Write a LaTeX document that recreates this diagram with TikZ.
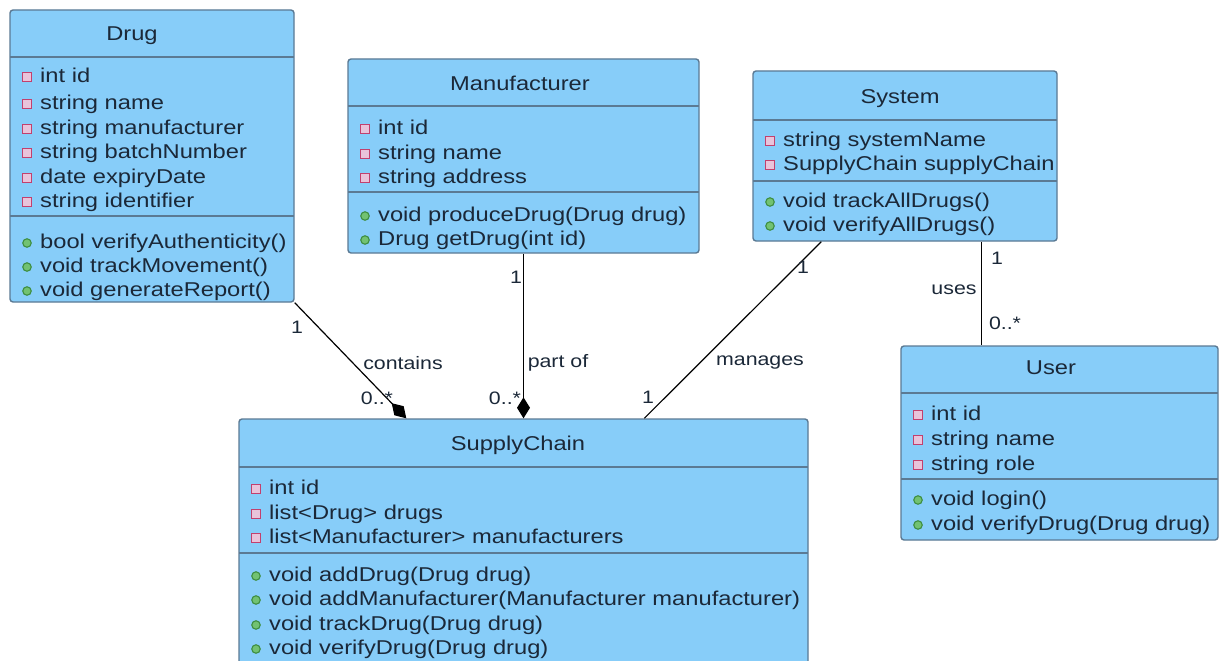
\documentclass[tikz,border=0pt]{standalone}
\usepackage{fontspec}
\setmainfont[FakeStretch=1.185]{Liberation Sans}
\usetikzlibrary{arrows.meta,calc}
\definecolor{boxfill}{HTML}{87CDF9}
\definecolor{boxline}{HTML}{5B7A94}
\definecolor{txtcol}{HTML}{1B2838}
\definecolor{privcol}{HTML}{C2406E}
\definecolor{privfill}{HTML}{E9C3DA}
\definecolor{pubcol}{HTML}{3E8E41}
\definecolor{pubfill}{HTML}{72C272}
\tikzset{
  cls/.style={draw=boxline, fill=boxfill, line width=1.4pt, rounded corners=3pt, inner sep=0pt},
  sepline/.style={draw=boxline, line width=1.2pt},
  title/.style={text=txtcol, font=\fontsize{20}{22}\selectfont, inner sep=0pt, anchor=base},
  row/.style={text=txtcol, font=\fontsize{20}{22}\selectfont, inner sep=0pt, anchor=base west},
  sqicon/.style={draw=privcol, fill=privfill, line width=1.3pt, minimum size=9.5pt, inner sep=0pt},
  ciicon/.style={circle, draw=pubcol, fill=pubfill, line width=1.1pt, minimum size=8.5pt, inner sep=0pt},
  conn/.style={draw=black, line width=1.2pt},
  comp/.style={conn, -{Diamond[length=21pt,width=13pt]}},
  lbl/.style={text=txtcol, font=\fontsize{18}{20}\selectfont, inner sep=0pt},
}
\newcommand\uattr[3]{\node[sqicon] at ({#1+17},{#2+3}) {};\node[row] at ({#1+30},{#2+8.5}) {#3};}
\newcommand\uop[3]{\node[ciicon] at ({#1+17},{#2+3}) {};\node[row] at ({#1+30},{#2+8.5}) {#3};}
\begin{document}
\begin{tikzpicture}[x=1pt,y=-1pt]
\clip (0,0) rectangle (1219,661);
\fill[white] (0,0) rectangle (1219,661);

% ---------- Drug ----------
\node[cls, minimum width=284pt, minimum height=292pt] (drug) at (152,156) {};
\node[title] (drugT) at (132,41) {Drug};
\draw[sepline] (10,57) -- (294,57);
\uattr{10}{74}{int id}
\uattr{10}{101}{string name}
\uattr{10}{126}{string manufacturer}
\uattr{10}{150}{string batchNumber}
\uattr{10}{175}{date expiryDate}
\uattr{10}{199}{string identifier}
\draw[sepline] (10,216) -- (294,216);
\uop{10}{240}{bool verifyAuthenticity()}
\uop{10}{264}{void trackMovement()}
\uop{10}{288}{void generateReport()}

% ---------- Manufacturer ----------
\node[cls, minimum width=351pt, minimum height=194pt] (mfr) at (523.5,156) {};
\node[title] (mfrT) at (520,91) {Manufacturer};
\draw[sepline] (348,106) -- (699,106);
\uattr{348}{126}{int id}
\uattr{348}{151}{string name}
\uattr{348}{175}{string address}
\draw[sepline] (348,192) -- (699,192);
\uop{348}{213}{void produceDrug(Drug drug)}
\uop{348}{237}{Drug getDrug(int id)}

% ---------- System ----------
\node[cls, minimum width=304pt, minimum height=170pt] (sys) at (905,156) {};
\node[title] (sysT) at (900,103) {System};
\draw[sepline] (753,120) -- (1057,120);
\uattr{753}{138}{string systemName}
\uattr{753}{162}{SupplyChain supplyChain}
\draw[sepline] (753,181) -- (1057,181);
\uop{753}{199}{void trackAllDrugs()}
\uop{753}{223}{void verifyAllDrugs()}

% ---------- User ----------
\node[cls, minimum width=317pt, minimum height=194pt] (user) at (1059.5,443) {};
\node[title] (userT) at (1051,374) {User};
\draw[sepline] (901,393) -- (1218,393);
\uattr{901}{412}{int id}
\uattr{901}{437}{string name}
\uattr{901}{462}{string role}
\draw[sepline] (901,479) -- (1218,479);
\uop{901}{497}{void login()}
\uop{901}{522}{void verifyDrug(Drug drug)}

% ---------- SupplyChain ----------
\node[cls, minimum width=569pt, minimum height=262pt] (sc) at (523.5,550) {};
\node[title] (scT) at (518,450) {SupplyChain};
\draw[sepline] (239,467) -- (808,467);
\uattr{239}{486}{int id}
\uattr{239}{511}{list<Drug> drugs}
\uattr{239}{535}{list<Manufacturer> manufacturers}
\draw[sepline] (239,553) -- (808,553);
\uop{239}{573}{void addDrug(Drug drug)}
\uop{239}{597}{void addManufacturer(Manufacturer manufacturer)}
\uop{239}{622}{void trackDrug(Drug drug)}
\uop{239}{646}{void verifyDrug(Drug drug)}

% ---------- Connectors ----------
\coordinate (scA) at ($(sc.north west)+(168,0)$);
\coordinate (scC) at ($(sc.north west)+(406,0)$);
\coordinate (sysA) at ($(sys.south west)+(69,0)$);
\coordinate (sysB) at ($(sys.south west)+(229,0)$);
\coordinate (userA) at (sysB |- user.north);

\draw[comp] (drug.south east) -- (scA);
\draw[comp] (mfr.south) -- (mfr.south |- sc.north);
\draw[conn] (sysA) -- (scC);
\draw[conn] (sysB) -- (userA);

% ---------- Labels ----------
\node[lbl] (l1) at (297,327) {1};
\node[lbl] (l2) at (403,363) {contains};
\node[lbl] (l3) at (377,398) {0..*};
\node[lbl] (l4) at (516,277) {1};
\node[lbl] (l5) at (558,363) {part of};
\node[lbl] (l6) at (505,398) {0..*};
\node[lbl] (l7) at (803,267) {1};
\node[lbl] (l8) at (760,363) {manages};
\node[lbl] (l9) at (648,397) {1};
\node[lbl] (l10) at (997,258) {1};
\node[lbl] (l11) at (954,290) {uses};
\node[lbl] (l12) at (1005,323) {0..*};
\end{tikzpicture}
\end{document}
